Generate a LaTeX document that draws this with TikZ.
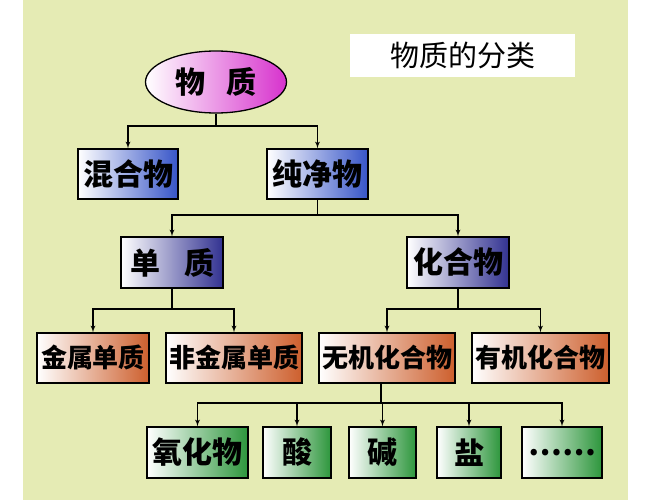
\documentclass[tikz,border=0pt]{standalone}
\usepackage{fontspec}
\newfontfamily\cjk{Noto Sans CJK SC}
\usetikzlibrary{shapes, arrows}
\definecolor{bggreen}{RGB}{229,235,180}
\definecolor{royal}{RGB}{55,85,200}
\definecolor{navy}{RGB}{50,50,145}
\definecolor{rust}{RGB}{205,95,45}
\definecolor{leaf}{RGB}{45,150,60}
\definecolor{orchid}{RGB}{215,50,205}
\tikzstyle{block} = [rectangle, draw, line width=1.3pt, inner sep=0pt,
    minimum height=50pt, font=\cjk\bfseries\fontsize{30}{32}\selectfont]
\tikzstyle{bluebox} = [block, left color=white, middle color=royal!35, right color=royal]
\tikzstyle{navybox} = [block, left color=white, middle color=navy!30, right color=navy]
\tikzstyle{rustbox} = [block, left color=white, middle color=rust!30, right color=rust,
    font=\cjk\bfseries\fontsize{26}{28}\selectfont]
\tikzstyle{leafbox} = [block, left color=white, middle color=leaf!35, right color=leaf]
\tikzstyle{cloud} = [draw, ellipse, line width=1.3pt, inner sep=0pt, minimum width=141pt,
    minimum height=62pt, left color=white, middle color=orchid!35, right color=orchid,
    font=\cjk\bfseries\fontsize{30}{32}\selectfont]
\tikzstyle{heading} = [rectangle, fill=white, minimum width=225pt, minimum height=43pt,
    font=\cjk\fontsize{29}{31}\selectfont]
\tikzstyle{wire} = [draw, line width=1.3pt]
\tikzstyle{line} = [draw, line width=1.3pt, -latex']

\begin{document}
\begin{tikzpicture}[x=1pt, y=-1pt]
        \useasboundingbox (0,0) rectangle (667,500);
        \fill [bggreen] (23,0) rectangle (628,500);
        % Place nodes
        \node [heading] (title) at (462.5,55.5) {物质的分类};
        \node [cloud] (matter) at (216,82) {物\hspace{0.7em}质};
        \node [bluebox, minimum width=100pt] (mixture) at (128,174) {混合物};
        \node [bluebox, minimum width=101pt] (pure) at (317.5,174) {纯净物};
        \node [navybox, minimum width=102pt, minimum height=51pt] (element) at (172,262.5) {单\hspace{0.8em}质};
        \node [navybox, minimum width=102pt, minimum height=51pt] (compound) at (458,262.5) {化合物};
        \node [rustbox, minimum width=112pt] (metal) at (93,358) {金属单质};
        \node [rustbox, minimum width=136pt] (nonmetal) at (234,358) {非金属单质};
        \node [rustbox, minimum width=136pt] (inorganic) at (387,358) {无机化合物};
        \node [rustbox, minimum width=137pt] (organic) at (540.5,358) {有机化合物};
        \node [leafbox, minimum width=101pt, minimum height=51pt] (oxide) at (197.5,452.5) {氧化物};
        \node [leafbox, minimum width=68pt, minimum height=51pt] (acid) at (297,452.5) {酸};
        \node [leafbox, minimum width=67pt, minimum height=51pt] (base) at (382.5,452.5) {碱};
        \node [leafbox, minimum width=64pt, minimum height=51pt] (salt) at (469,452.5) {盐};
        \node [leafbox, minimum width=80pt, minimum height=51pt] (others) at (562,452.5) {……};
        % Junctions
        \coordinate (matter_j) at (216,126);
        \coordinate (pure_j) at (317.5,215);
        \coordinate (element_j) at (172,309);
        \coordinate (compound_j) at (458,309);
        \coordinate (inorganic_j) at (381,403);
        % Draw edges
        \path [wire] (matter) -- (matter_j);
        \path [line] (matter_j) -| (mixture);
        \path [line] (matter_j) -| (pure);
        \path [wire] (pure) -- (pure_j);
        \path [line] (pure_j) -| (element);
        \path [line] (pure_j) -| (compound);
        \path [wire] (element) -- (element_j);
        \path [line] (element_j) -| (metal);
        \path [line] (element_j) -| (nonmetal);
        \path [wire] (compound) -- (compound_j);
        \path [line] (compound_j) -| (inorganic);
        \path [line] (compound_j) -| (organic);
        \path [wire] (inorganic.south -| inorganic_j) -- (inorganic_j);
        \path [line] (inorganic_j) -| (oxide);
        \path [line] (inorganic_j) -| (acid);
        \path [line] (inorganic_j) -| (base);
        \path [line] (inorganic_j) -| (salt);
        \path [line] (inorganic_j) -| (others);
    \end{tikzpicture}
\end{document}
